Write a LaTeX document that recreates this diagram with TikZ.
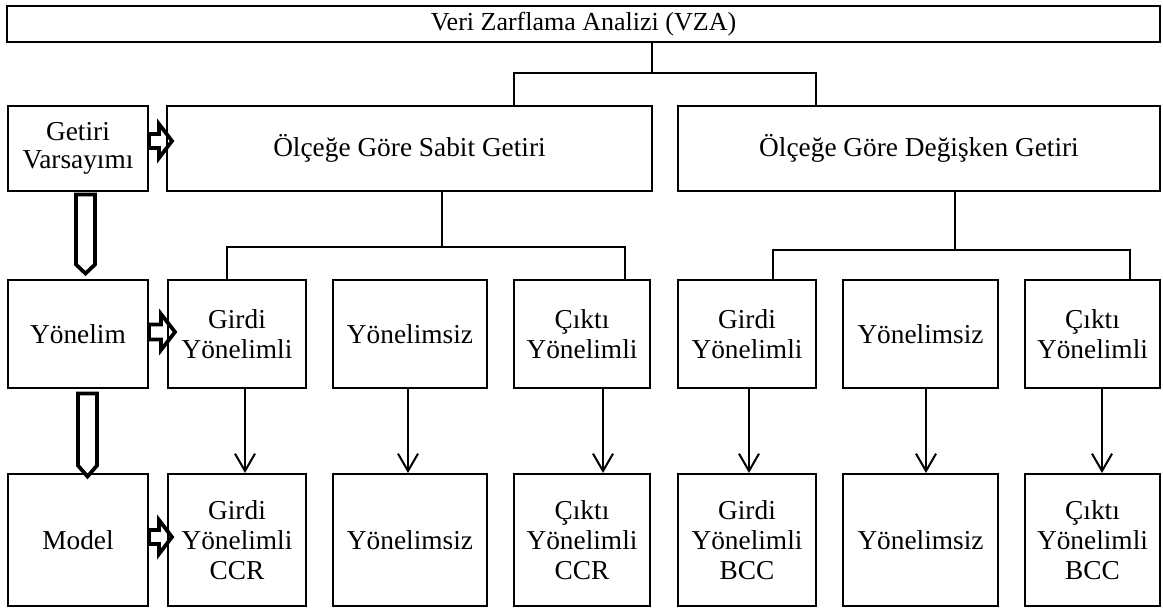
\documentclass[tikz,border=0pt]{standalone}
\usepackage{fontspec}
\setmainfont{Liberation Serif}
\usetikzlibrary{arrows.meta}
\begin{document}
\begin{tikzpicture}[x=0.75pt,y=-0.75pt,
  box/.style n args={2}{draw, line width=1.5pt, rectangle, inner sep=0pt,
    minimum width=#1*0.75pt, minimum height=#2*0.75pt, align=center,
    font=\fontsize{20.5}{22.5}\selectfont},
  conn/.style={line width=1.5pt},
  arr/.style={line width=1.5pt, -{Straight Barb[length=13pt,width=15pt,line width=1.5pt]}},
  blk/.style={line width=2.8pt, line join=miter}]
\useasboundingbox (0,0) rectangle (1163,607);
% boxes
\node[box={1153}{36}, font=\fontsize{19.5}{22.5}\selectfont] (top) at (583.5,24) {Veri Zarflama Analizi (VZA)};
\node[box={140}{85}, font=\fontsize{20.5}{21}\selectfont] (get) at (78,148.5) {Getiri\\Varsayımı};
\node[box={485}{85}] (sab) at (409.5,148.5) {Ölçeğe Göre Sabit Getiri};
\node[box={482}{85}] (deg) at (919,148.5) {Ölçeğe Göre Değişken Getiri};
\node[box={140}{108}] (yon) at (78,334) {Yönelim};
\node[box={138}{108}] (a1) at (237,334) {Girdi\\Yönelimli};
\node[box={154}{108}] (a2) at (410,334) {Yönelimsiz};
\node[box={136}{108}] (a3) at (582,334) {Çıktı\\Yönelimli};
\node[box={138}{108}] (b1) at (747,334) {Girdi\\Yönelimli};
\node[box={155}{108}] (b2) at (920.5,334) {Yönelimsiz};
\node[box={135}{108}] (b3) at (1092.5,334) {Çıktı\\Yönelimli};
\node[box={140}{132}] (mod) at (78,540) {Model};
\node[box={138}{132}] (c1) at (237,540) {Girdi\\Yönelimli\\CCR};
\node[box={154}{132}] (c2) at (410,540) {Yönelimsiz};
\node[box={136}{132}] (c3) at (582,540) {Çıktı\\Yönelimli\\CCR};
\node[box={138}{132}] (d1) at (747,540) {Girdi\\Yönelimli\\BCC};
\node[box={155}{132}] (d2) at (920.5,540) {Yönelimsiz};
\node[box={135}{132}] (d3) at (1092.5,540) {Çıktı\\Yönelimli\\BCC};
% tree connectors
\coordinate (t1) at (652,73);
\coordinate (t2) at (514,73);
\coordinate (t3) at (816,73);
\draw[conn] (top.south -| t1) -- (t1);
\draw[conn] (sab.north -| t2) -- (t2) -- (t3) -- (deg.north -| t3);
\coordinate (s1) at (442,247);
\coordinate (s2) at (227,247);
\coordinate (s3) at (625,247);
\draw[conn] (sab.south -| s1) -- (s1);
\draw[conn] (a1.north -| s2) -- (s2) -- (s3) -- (a3.north -| s3);
\coordinate (u1) at (955,250);
\coordinate (u2) at (773,250);
\coordinate (u3) at (1130,250);
\draw[conn] (deg.south -| u1) -- (u1);
\draw[conn] (b1.north -| u2) -- (u2) -- (u3) -- (b3.north -| u3);
% down arrows
\coordinate (x1) at (245,0);
\coordinate (x2) at (408,0);
\coordinate (x3) at (603,0);
\coordinate (x4) at (749,0);
\coordinate (x5) at (926,0);
\coordinate (x6) at (1102,0);
\draw[arr] (a1.south -| x1) -- (c1.north -| x1);
\draw[arr] (a2.south -| x2) -- (c2.north -| x2);
\draw[arr] (a3.south -| x3) -- (c3.north -| x3);
\draw[arr] (b1.south -| x4) -- (d1.north -| x4);
\draw[arr] (b2.south -| x5) -- (d2.north -| x5);
\draw[arr] (b3.south -| x6) -- (d3.north -| x6);
% block arrows (right)
\coordinate (h1) at (0,141);
\coordinate (h2) at (0,332);
\coordinate (h3) at (0,537);
\draw[blk] (get.east |- h1) ++(0,-7) -- ++(10,0) -- ++(0,-10) -- ++(13,17) -- ++(-13,17) -- ++(0,-10) -- ++(-10,0) -- cycle;
\draw[blk] (yon.east |- h2) ++(0,-7.5) -- ++(12,0) -- ++(0,-10.5) -- ++(14,18) -- ++(-14,18) -- ++(0,-10.5) -- ++(-12,0) -- cycle;
\draw[blk] (mod.east |- h3) ++(0,-7) -- ++(10,0) -- ++(0,-10) -- ++(13,17) -- ++(-13,17) -- ++(0,-10) -- ++(-10,0) -- cycle;
% block arrows (down)
\coordinate (v1) at (85.5,0);
\coordinate (v2) at (87.5,0);
\draw[blk] (get.south -| v1) ++(-9.5,2.5) -- ++(19,0) -- ++(0,70) -- ++(-9.5,9) -- ++(-9.5,-9) -- cycle;
\draw[blk] (yon.south -| v2) ++(-9.5,4.5) -- ++(19,0) -- ++(0,72) -- ++(-9.5,11) -- ++(-9.5,-11) -- cycle;
\end{tikzpicture}
\end{document}
